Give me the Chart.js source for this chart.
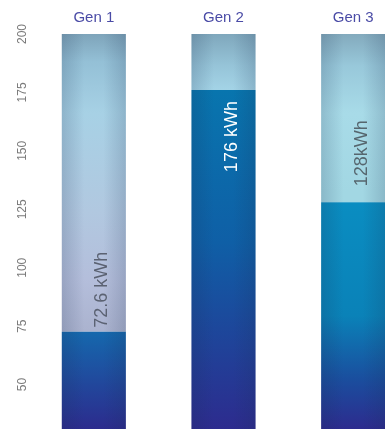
<!DOCTYPE html>
<html>
<head>
<meta charset="utf-8">
<script src="https://cdn.jsdelivr.net/npm/chart.js@4"></script>
<style>
  html, body { margin: 0; padding: 0; background: #fff; overflow: hidden; }
  #wrap { position: absolute; left: 0; top: 0; width: 418px; height: 429px; }
</style>
</head>
<body>
<div id="wrap"><canvas id="genChart" width="418" height="429"></canvas></div>
<script>
const generations = ['Gen 1', 'Gen 2', 'Gen 3'];
const energyKwh = [72.6, 176, 128];
const energyLabels = ['72.6 kWh', '176 kWh', '128kWh'];
const capacityKwh = 200;
const yTicks = [50, 75, 100, 125, 150, 175, 200];
const yMin = 31;

// per-bar look: dark fill stops, light fill stops, label colour / placement
const darkStops = [
  [[0, '#1568ad'], [1, '#2c2b8d']],
  [[0, '#0875ae'], [0.45, '#0f5fa6'], [1, '#2d2b8e']],
  [[0, '#0a8dc1'], [0.5, '#0a82b8'], [0.78, '#1a4e9e'], [1, '#2d2b8e']]
];
const lightStops = [
  [[0, '#7ea4ba'], [0.07, '#94c0d6'], [0.2, '#a7d1e5'], [0.45, '#b1c8e0'], [0.62, '#b4bedb'], [0.75, '#abb3cf'], [1, '#abb3cf']],
  [[0, '#7fa7bc'], [0.08, '#96c4d8'], [0.14, '#a3d3e6'], [1, '#a3d3e6']],
  [[0, '#83aabd'], [0.08, '#98c8da'], [0.2, '#a8dbe8'], [0.4, '#a2d7e3'], [1, '#a2d7e3']]
];
const labelColors = ['#5b6272', '#ffffff', '#56666e'];
const labelSide = ['above', 'below', 'above'];
const labelGap = [4, 11, 16];

function gradientFrom(ctx, y0, y1, stops) {
  const g = ctx.createLinearGradient(0, y0, 0, y1);
  stops.forEach(([p, c]) => g.addColorStop(p, c));
  return g;
}

function darkFill(context) {
  const chart = context.chart;
  const area = chart.chartArea;
  if (!area) return '#1a4e9e';
  const top = chart.scales.y.getPixelForValue(energyKwh[context.dataIndex]);
  return gradientFrom(chart.ctx, top, area.bottom, darkStops[context.dataIndex]);
}

function lightFill(context) {
  const chart = context.chart;
  const area = chart.chartArea;
  if (!area) return '#a3d3e6';
  return gradientFrom(chart.ctx, area.top, area.bottom, lightStops[context.dataIndex]);
}

// rounded shading on the bar edges + rotated value labels
const barFinish = {
  id: 'barFinish',
  afterDatasetsDraw(chart) {
    const { ctx, chartArea } = chart;
    const yScale = chart.scales.y;
    const bars = chart.getDatasetMeta(0).data;
    ctx.save();
    ctx.beginPath();
    ctx.rect(chartArea.left, chartArea.top, chartArea.right - chartArea.left, chartArea.bottom - chartArea.top);
    ctx.clip();
    bars.forEach((bar, i) => {
      const left = bar.x - bar.width / 2;
      const g = ctx.createLinearGradient(left, 0, left + bar.width, 0);
      g.addColorStop(0, 'rgba(25,45,80,0.18)');
      g.addColorStop(0.35, 'rgba(25,45,80,0)');
      g.addColorStop(0.65, 'rgba(25,45,80,0)');
      g.addColorStop(1, 'rgba(25,45,80,0.18)');
      ctx.fillStyle = g;
      ctx.fillRect(left, chartArea.top, bar.width, chartArea.bottom - chartArea.top);
    });
    ctx.restore();

    bars.forEach((bar, i) => {
      const yb = yScale.getPixelForValue(energyKwh[i]);
      ctx.save();
      ctx.translate(bar.x + 13.5, yb);
      ctx.rotate(-Math.PI / 2);
      ctx.font = '18px "Liberation Sans", Arial, sans-serif';
      ctx.fillStyle = labelColors[i];
      ctx.textBaseline = 'alphabetic';
      if (labelSide[i] === 'above') {
        ctx.textAlign = 'left';
        ctx.fillText(energyLabels[i], labelGap[i], 0);
      } else {
        ctx.textAlign = 'right';
        ctx.fillText(energyLabels[i], -labelGap[i], 0);
      }
      ctx.restore();
    });
  }
};

function noPad(scale) {
  scale.paddingTop = 0;
  scale.paddingBottom = 0;
  scale.paddingLeft = 0;
  scale.paddingRight = 0;
}

new Chart(document.getElementById('genChart'), {
  type: 'bar',
  data: {
    labels: generations,
    datasets: [
      {
        label: 'Energy',
        data: energyKwh,
        backgroundColor: darkFill,
        borderWidth: 0,
        barPercentage: 0.494,
        categoryPercentage: 1
      },
      {
        label: 'Remaining',
        data: energyKwh.map(v => capacityKwh - v),
        backgroundColor: lightFill,
        borderWidth: 0,
        barPercentage: 0.494,
        categoryPercentage: 1
      }
    ]
  },
  options: {
    responsive: false,
    animation: false,
    layout: { padding: 0 },
    plugins: {
      legend: { display: false },
      tooltip: { enabled: false }
    },
    scales: {
      x: {
        position: 'top',
        stacked: true,
        grid: { display: false },
        border: { display: false },
        ticks: {
          color: '#4a4ba6',
          padding: -1,
          font: { family: '"Liberation Sans", Arial, sans-serif', size: 15 }
        },
        afterFit: s => { s.height = 34; noPad(s); }
      },
      y: {
        position: 'left',
        stacked: true,
        min: yMin,
        max: capacityKwh,
        grid: { display: false },
        border: { display: false },
        afterBuildTicks: s => { s.ticks = yTicks.map(v => ({ value: v })); },
        ticks: {
          color: '#7a7a7a',
          minRotation: 90,
          maxRotation: 90,
          crossAlign: 'center',
          padding: -12,
          font: { family: '"Liberation Sans", Arial, sans-serif', size: 12 }
        },
        afterFit: s => { s.width = 29; noPad(s); }
      }
    }
  },
  plugins: [barFinish]
});
</script>
</body>
</html>
